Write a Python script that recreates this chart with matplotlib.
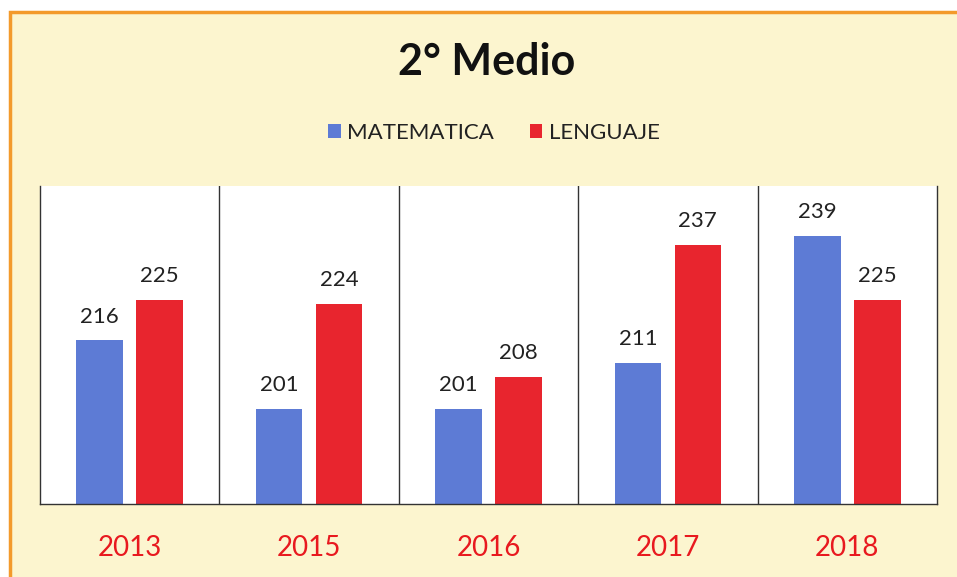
import numpy as np
import matplotlib
matplotlib.use("Agg")
import matplotlib.pyplot as plt
from matplotlib.patches import Rectangle, Patch

plt.rcParams["font.family"] = ["Lato", "DejaVu Sans"]

# datos
anios = ["2013", "2015", "2016", "2017", "2018"]
matematica = [216, 201, 201, 211, 239]
lenguaje = [225, 224, 208, 237, 225]

AZUL = "#5d7bd5"
ROJO = "#e8252e"
FONDO = "#fcf5cf"

fig = plt.figure(figsize=(9.57, 5.77), dpi=100)
fig.patch.set_facecolor("white")

# marco naranja con fondo amarillo (recortado a derecha y abajo)
fig.patches.append(Rectangle((10 / 957, -0.05), 1.1, 1 - 12 / 577 + 0.05,
                             transform=fig.transFigure, facecolor=FONDO,
                             edgecolor="#f39a2b", linewidth=2.5, zorder=-10))

ax = fig.add_axes([40 / 957, 1 - 504 / 577, (937 - 40) / 957, (504 - 186) / 577])
ax.set_facecolor("white")

x = np.arange(len(anios))
w = 0.26
b1 = ax.bar(x - 0.167, matematica, w, color=AZUL, zorder=2)
b2 = ax.bar(x + 0.167, lenguaje, w, color=ROJO, zorder=2)
ax.bar_label(b1, padding=10, fontsize=16, color="#222222")
ax.bar_label(b2, padding=10, fontsize=16, color="#222222")

ax.set_ylim(180, 250)
ax.set_xlim(-0.5, len(anios) - 0.5)
ax.set_yticks([])
ax.set_xticks(x)
ax.set_xticklabels(anios, fontsize=20, color="#e8191f")
ax.tick_params(axis="x", length=0, pad=22)

# separadores verticales entre categorías
for s in np.arange(0.5, len(anios) - 1, 1.0):
    ax.axvline(s, color="#333333", linewidth=1.0, zorder=1)
for lado in ["left", "right", "bottom"]:
    ax.spines[lado].set_color("#333333")
    ax.spines[lado].set_linewidth(1.0)
ax.spines["top"].set_visible(False)

fig.text(487 / 957, 1 - 62 / 577, "2° Medio", ha="center", va="center",
         fontsize=31, fontweight="bold", color="#111111")

handles = [Patch(facecolor=AZUL, label="MATEMATICA"),
           Patch(facecolor=ROJO, label="LENGUAJE")]
fig.legend(handles=handles, loc="center", bbox_to_anchor=(494 / 957, 1 - 133 / 577),
           ncol=2, frameon=False, fontsize=16, handlelength=0.55, handleheight=0.55,
           handletextpad=0.3, columnspacing=1.6, labelcolor="#222222")

fig.savefig("out.png", dpi=100, facecolor=fig.get_facecolor())
